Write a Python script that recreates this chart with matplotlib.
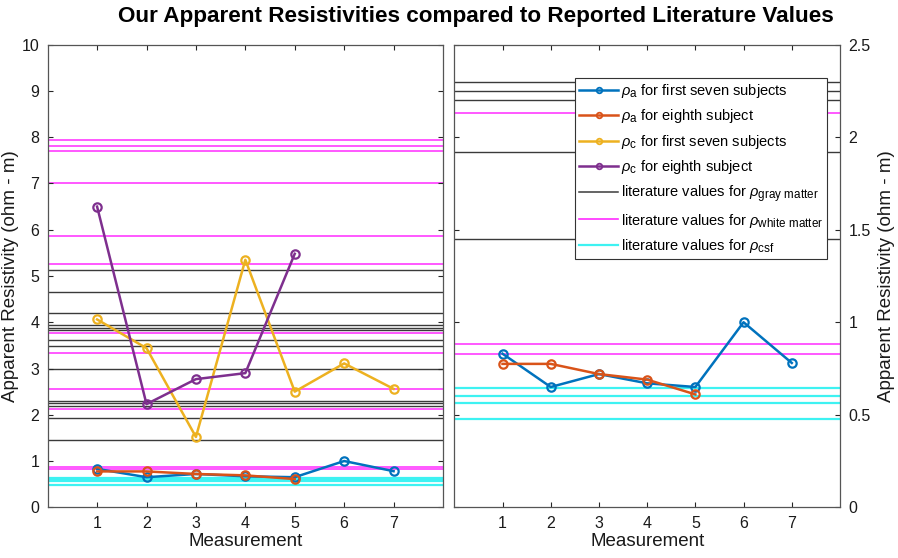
import matplotlib
matplotlib.use("Agg")
import matplotlib.pyplot as plt
from matplotlib.lines import Line2D
import matplotlib._mathtext as _mt

_mt.SHRINK_FACTOR = 0.8

plt.rcParams['font.family'] = ['Liberation Sans', 'DejaVu Sans']
plt.rcParams['mathtext.fontset'] = 'custom'
plt.rcParams['mathtext.rm'] = 'Liberation Sans'
plt.rcParams['mathtext.it'] = 'Liberation Sans:italic'
plt.rcParams['mathtext.bf'] = 'Liberation Sans:bold'

# ---- data ----
measurements = [1, 2, 3, 4, 5, 6, 7]
measurements_8th = [1, 2, 3, 4, 5]
rho_a_first7 = [0.83, 0.65, 0.72, 0.67, 0.65, 1.00, 0.78]
rho_a_eighth = [0.775, 0.775, 0.72, 0.69, 0.61]
rho_c_first7 = [4.06, 3.44, 1.52, 5.35, 2.50, 3.11, 2.56]
rho_c_eighth = [6.50, 2.23, 2.77, 2.90, 5.48]

lit_gray = [5.13, 4.65, 4.19, 3.93, 3.88, 3.83, 3.61, 3.49, 2.99,
            2.30, 2.25, 2.20, 1.92, 1.45]
lit_white = [7.94, 7.80, 7.70, 7.00, 5.87, 5.25, 3.77, 3.33, 2.56,
             2.13, 0.88, 0.83]
lit_csf = [0.643, 0.603, 0.564, 0.477]

left_yticks = [0, 1, 2, 3, 4, 5, 6, 7, 8, 9, 10]
right_yticks = [0, 0.5, 1, 1.5, 2, 2.5]
right_yticklabels = ['0', '0.5', '1', '1.5', '2', '2.5']

title = 'Our Apparent Resistivities compared to Reported Literature Values'
ylabel = 'Apparent Resistivity (ohm - m)'
xlabel = 'Measurement'

# ---- style ----
C_BLUE = '#0072BD'
C_ORANGE = '#D95319'
C_YELLOW = '#EDB120'
C_PURPLE = '#7E2F8E'
C_GRAY = '#3a3a3a'
C_MAG = '#FF2BFF'
C_CYAN = '#3EF2F2'
AX_COL = '#262626'

fig = plt.figure(figsize=(8.98, 5.58), dpi=100)
axL = fig.add_axes([0.0531, 0.0909, 0.4402, 0.8290])
axR = fig.add_axes([0.5059, 0.0909, 0.4295, 0.8290])


def draw_lit(ax):
    for v in lit_gray:
        ax.axhline(v, color=C_GRAY, lw=1.0, zorder=1)
    for v in lit_white:
        ax.axhline(v, color=C_MAG, lw=1.1, zorder=1)
    for v in lit_csf:
        ax.axhline(v, color=C_CYAN, lw=1.6, zorder=1)


def series(ax, x, y, c):
    ax.plot(x, y, '-o', color=c, lw=1.8, ms=6, mfc='none', mew=1.6, zorder=3)


def style(ax):
    ax.set_xlim(0, 8)
    ax.set_xticks(measurements)
    ax.tick_params(direction='in', length=3.5, width=0.8, colors=AX_COL,
                   labelsize=11.5, top=True, right=True, left=True, bottom=True,
                   labelcolor='#1a1a1a', pad=6)
    for s in ax.spines.values():
        s.set_color('#555555')
        s.set_linewidth(0.9)
    ax.set_xlabel(xlabel, fontsize=13.5, color='#1a1a1a', labelpad=2)


# left panel
draw_lit(axL)
series(axL, measurements, rho_a_first7, C_BLUE)
series(axL, measurements_8th, rho_a_eighth, C_ORANGE)
series(axL, measurements, rho_c_first7, C_YELLOW)
series(axL, measurements_8th, rho_c_eighth, C_PURPLE)
axL.set_ylim(0, 10)
axL.set_yticks(left_yticks)
style(axL)
axL.set_ylabel(ylabel, fontsize=13.5, color='#1a1a1a', labelpad=2)

# right panel
draw_lit(axR)
series(axR, measurements, rho_a_first7, C_BLUE)
series(axR, measurements_8th, rho_a_eighth, C_ORANGE)
axR.set_ylim(0, 2.5)
axR.set_yticks(right_yticks)
axR.set_yticklabels(right_yticklabels)
style(axR)
axR.yaxis.tick_right()
axR.tick_params(axis='y', left=True, right=True, direction='in')
axR.yaxis.set_label_position('right')
axR.set_ylabel(ylabel, fontsize=13.5, color='#1a1a1a', labelpad=5)

handles = [
    Line2D([], [], color=C_BLUE, lw=1.8, marker='o', ms=4, mfc='none', mew=1.3),
    Line2D([], [], color=C_ORANGE, lw=1.8, marker='o', ms=4, mfc='none', mew=1.3),
    Line2D([], [], color=C_YELLOW, lw=1.8, marker='o', ms=4, mfc='none', mew=1.3),
    Line2D([], [], color=C_PURPLE, lw=1.8, marker='o', ms=4, mfc='none', mew=1.3),
    Line2D([], [], color=C_GRAY, lw=1.1),
    Line2D([], [], color=C_MAG, lw=1.2),
    Line2D([], [], color=C_CYAN, lw=1.6),
]
labels = [
    r'$\rho_{\mathrm{a}}$ for first seven subjects',
    r'$\rho_{\mathrm{a}}$ for eighth subject',
    r'$\rho_{\mathrm{c}}$ for first seven subjects',
    r'$\rho_{\mathrm{c}}$ for eighth subject',
    r'literature values for $\rho_{\mathrm{gray\ matter}}$',
    r'literature values for $\rho_{\mathrm{white\ matter}}$',
    r'literature values for $\rho_{\mathrm{csf}}$',
]
leg = axR.legend(handles, labels, loc='upper right', bbox_to_anchor=(0.967, 0.9287),
                 fontsize=10.5, frameon=True, fancybox=False, framealpha=1,
                 edgecolor='#333333', handlelength=2.7, handletextpad=0.15,
                 labelspacing=0.5, borderpad=0.3, borderaxespad=0)
leg.get_frame().set_linewidth(0.8)

fig.suptitle(title, fontsize=16.2, fontweight='bold', y=0.99, x=0.5295)

fig.savefig('out.png', dpi=100)
